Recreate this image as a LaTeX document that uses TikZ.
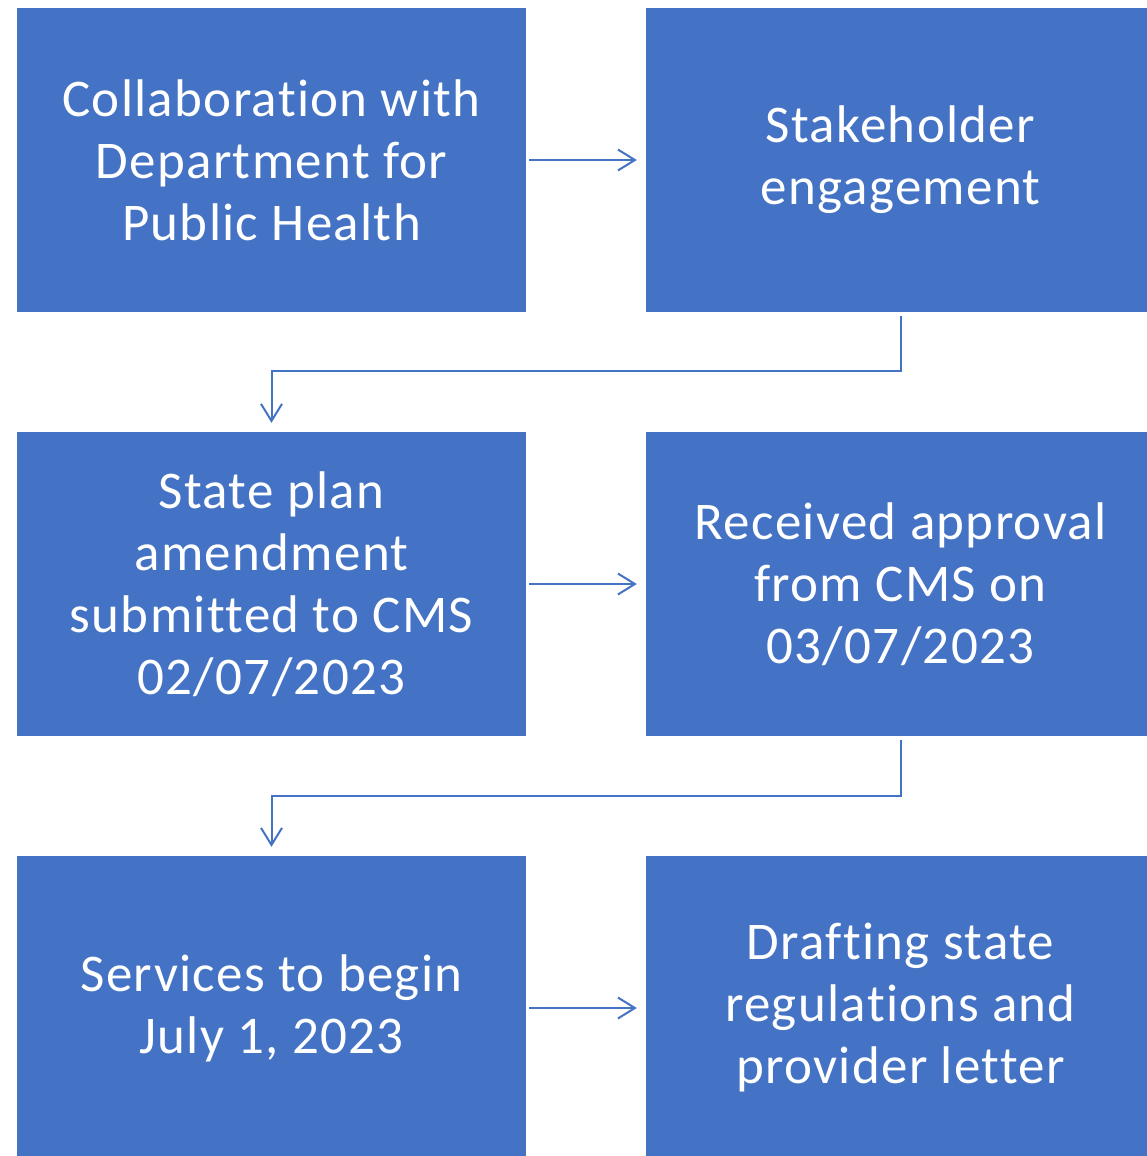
\documentclass[tikz,border=0pt]{standalone}
\usepackage{fontspec}
\setmainfont{Carlito}[Ligatures=NoCommon, LetterSpace=2.5]
\usetikzlibrary{arrows.meta}
\definecolor{boxblue}{HTML}{4472C4}
\tikzset{
  stepbox/.style={fill=boxblue, draw=none, minimum width=509pt, minimum height=304pt,
    inner sep=0pt, text=white, align=center,
    font=\fontsize{53}{62}\selectfont},
  arr/.style={draw=boxblue, line width=2pt,
    -{Straight Barb[length=17pt,width=21pt,line width=2pt]}},
}
\begin{document}
\begin{tikzpicture}[x=1pt,y=-1pt]
\useasboundingbox (0,0) rectangle (1147,1156);
\clip (0,0) rectangle (1147,1156);
\node[stepbox] (a) at (271.5,160) {Collaboration with\\Department for\\Public Health};
\node[stepbox] (b) at (900.5,160) {Stakeholder\\engagement};
\node[stepbox] (c) at (271.5,584) {State plan\\amendment\\submitted to CMS\\02/07/2023};
\node[stepbox] (d) at (900.5,584) {Received approval\\from CMS on\\03/07/2023};
\node[stepbox] (e) at (271.5,1008) {Services to begin\\July 1, 2023};
\node[stepbox] (f) at (900.5,1008) {Drafting state\\regulations and\\provider letter};
\coordinate (k1) at (271.5,371);
\coordinate (k2) at (271.5,796);
\draw[arr, shorten <=3pt, shorten >=9pt] (a) -- (b);
\draw[arr, shorten <=3pt, shorten >=9pt] (c) -- (d);
\draw[arr, shorten <=3pt, shorten >=9pt] (e) -- (f);
\draw[arr, shorten <=4pt, shorten >=9pt] (b.south) |- (k1) -- (c.north);
\draw[arr, shorten <=4pt, shorten >=9pt] (d.south) |- (k2) -- (e.north);
\end{tikzpicture}
\end{document}
